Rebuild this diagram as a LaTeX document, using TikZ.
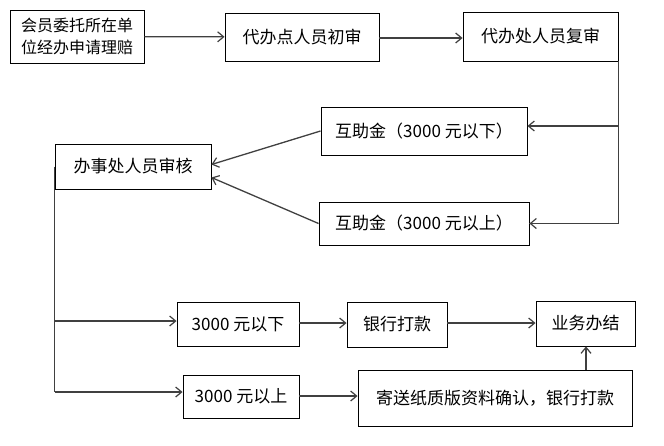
\documentclass[tikz,border=0pt]{standalone}
\usepackage{fontspec}
\setmainfont{Noto Sans CJK SC}
\usepackage{tikz}
\usetikzlibrary{positioning,arrows.meta}

\tikzset{
  box/.style={draw=black,line width=0.9pt,inner sep=0pt,align=center,
              font=\fontsize{17}{22}\selectfont},
  flow/.style={draw=black!75,line width=1.3pt,
               -{Straight Barb[length=6pt,width=10pt,line width=1.2pt]}},
  trunk/.style={draw=black!75,line width=1.3pt}
}

\begin{document}
\begin{tikzpicture}[x=1pt,y=-1pt]

  \useasboundingbox (0,0) rectangle (664,445);

  % ---------- top row: application and first checks ----------
  \node[box,minimum width=134,minimum height=53,font=\fontsize{16}{22}\selectfont]
    (apply) at (77,36.5) {会员委托所在单\\位经办申请理赔};
  \node[box,minimum width=154,minimum height=48] (first) at (302,37) {代办点人员初审};
  \node[box,minimum width=155,minimum height=49] (second) at (540.5,36.5) {代办处人员复审};

  \draw[flow] (apply) -- (first);
  \draw[flow] (first.east |- 0,38) -- (second.west |- 0,38);

  % ---------- middle: split by amount ----------
  \node[box,minimum width=206,minimum height=48] (fundlow) at (424,131) {互助金（3000 元以下）};
  \node[box,minimum width=210,minimum height=43] (fundhigh) at (424,223.5) {互助金（3000 元以上）};
  \node[box,minimum width=156,minimum height=45] (office) at (133,166.5) {办事处人员审核};

  \coordinate (rlow) at (618,126);
  \draw[trunk] (second.south east) |- (fundhigh.east);
  \draw[flow] (second.south east |- fundhigh.east) -- (fundhigh.east);
  \draw[flow] (rlow) -- (rlow -| fundlow.east);

  \draw[flow] (fundlow.west) -- ([yshift=2]office.east);
  \draw[flow] (fundhigh.west) -- ([yshift=-11]office.east);

  % ---------- bottom: payment ----------
  \node[box,minimum width=122,minimum height=44] (low) at (238,324) {3000 元以下};
  \node[box,minimum width=100,minimum height=45] (bank) at (397,324.5) {银行打款};
  \node[box,minimum width=99,minimum height=45] (done) at (585.5,323.5) {业务办结};
  \node[box,minimum width=116,minimum height=43] (high) at (241,396.5) {3000 元以上};
  \node[box,minimum width=274,minimum height=56] (paper) at (495,398) {寄送纸质版资料确认，银行打款};

  \coordinate (llow) at (office.west |- 0,321);
  \coordinate (lhigh) at (office.west |- 0,392);
  \draw[trunk] (office.west) -- (lhigh);
  \draw[flow] (llow) -- (llow -| low.west);
  \draw[flow] (lhigh) -- (lhigh -| high.west);

  \draw[flow] (low.east |- 0,323) -- (bank.west |- 0,323);
  \draw[flow] (bank.east |- 0,323) -- (done.west |- 0,323);
  \draw[flow] (high.east |- 0,396) -- (paper.west |- 0,396);
  \draw[flow] (paper.north -| 586,0) -- (done.south -| 586,0);

\end{tikzpicture}
\end{document}
